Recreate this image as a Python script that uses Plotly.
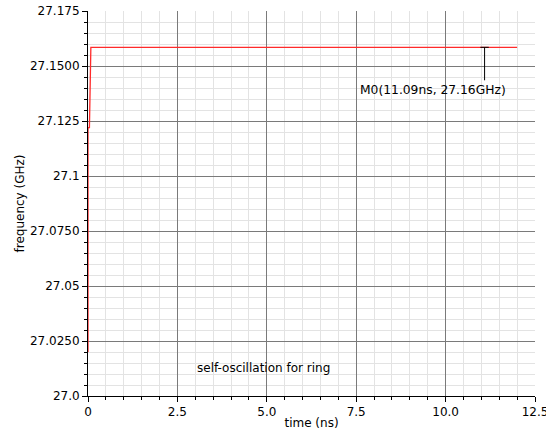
import plotly.graph_objects as go

# data
time_ns = [0.0, 0.0, 0.0, 0.04, 0.08, 12.0]
freq_ghz = [27.020, 27.0545, 27.122, 27.122, 27.1585, 27.1585]

marker_name = "M0"
marker_x = 11.09
marker_y = 27.1585
marker_label = "M0(11.09ns, 27.16GHz)"

x_tickvals = [0, 2.5, 5.0, 7.5, 10.0, 12.5]
x_ticktext = ["0", "2.5", "5.0", "7.5", "10.0", "12.5"]
y_tickvals = [27.0, 27.025, 27.05, 27.075, 27.1, 27.125, 27.15, 27.175]
y_ticktext = ["27.0", "27.0250", "27.05", "27.0750", "27.1", "27.125", "27.1500", "27.175"]

title_note = "self-oscillation for ring"

FONT = "DejaVu Sans"
MAJOR = "#7a7a7a"
MINOR = "#e3e3e3"

fig = go.Figure()
fig.add_trace(go.Scatter(x=time_ns, y=freq_ghz, mode="lines",
                         line=dict(color="#ff2a2a", width=1.3),
                         hoverinfo="skip", showlegend=False))
# marker stem
fig.add_trace(go.Scatter(x=[marker_x, marker_x], y=[marker_y, marker_y - 0.0150],
                         mode="lines", line=dict(color="black", width=1),
                         showlegend=False, hoverinfo="skip"))
fig.add_trace(go.Scatter(x=[marker_x], y=[marker_y], mode="markers",
                         marker=dict(symbol="line-ew", size=6,
                                     line=dict(color="black", width=1)),
                         showlegend=False, hoverinfo="skip"))

fig.add_annotation(x=marker_x, y=marker_y - 0.0194, xref="x", yref="y",
                   text=marker_label, showarrow=False, xanchor="right",
                   yanchor="middle", xshift=23,
                   font=dict(family=FONT, size=12.3, color="black"))
fig.add_annotation(x=2.98, y=27.0127, xref="x", yref="y",
                   text=title_note, showarrow=False, xanchor="left",
                   yanchor="middle",
                   font=dict(family=FONT, size=12, color="black"))

fig.update_layout(
    width=546, height=434,
    margin=dict(l=88, r=11, t=11, b=38),
    paper_bgcolor="white", plot_bgcolor="white",
    font=dict(family=FONT, size=12, color="black"),
    xaxis=dict(range=[0, 12.5], tickvals=x_tickvals, ticktext=x_ticktext,
               showgrid=True, gridcolor=MAJOR, gridwidth=1,
               showline=True, linecolor="black", linewidth=1,
               ticks="outside", ticklen=5, tickcolor="black",
               zeroline=False, layer="below traces",
               ticklabeloverflow="allow",
               title=dict(text="time (ns)", font=dict(size=12), standoff=0),
               minor=dict(dtick=0.5, tick0=0, showgrid=True, gridcolor=MINOR,
                          ticks="outside", ticklen=3, tickcolor="black"),
               automargin=False),
    yaxis=dict(range=[27.0, 27.175], tickvals=y_tickvals, ticktext=y_ticktext,
               showgrid=True, gridcolor=MAJOR, gridwidth=1,
               showline=True, linecolor="black", linewidth=1,
               ticks="outside", ticklen=5, tickcolor="black",
               zeroline=False, layer="below traces",
               ticklabeloverflow="allow",
               title=dict(text="frequency (GHz)", font=dict(size=12), standoff=2),
               minor=dict(dtick=0.005, tick0=27.0, showgrid=True, gridcolor=MINOR,
                          ticks="outside", ticklen=3, tickcolor="black"),
               automargin=False),
)

fig.write_html("out.html", config={"displayModeBar": False},
               post_script="document.body.style.margin='0px';")
